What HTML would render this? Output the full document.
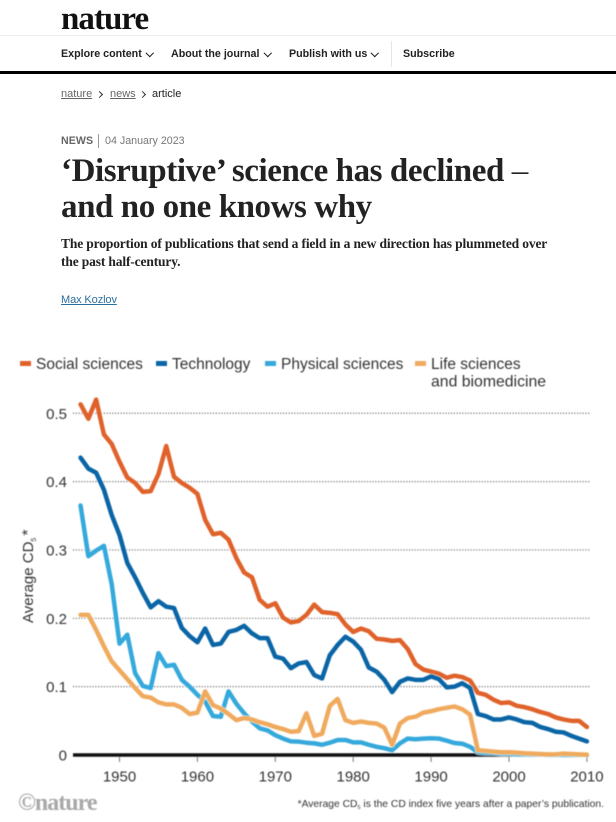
<!DOCTYPE html>
<html lang="en">
<head>
<meta charset="utf-8">
<title>'Disruptive' science has declined</title>
<style>
html,body{margin:0;padding:0;background:#fff;}
body{width:616px;height:822px;position:relative;overflow:hidden;font-family:"Liberation Sans",sans-serif;color:#222;}
.a{position:absolute;white-space:nowrap;}
a{color:inherit;}
.nav{font-size:10.7px;font-weight:bold;top:48px;color:#222;}
.chev{position:absolute;top:50px;width:4.5px;height:4.5px;border-right:1.5px solid #222;border-bottom:1.5px solid #222;transform:rotate(45deg);}
.crumb{position:absolute;top:92px;width:4px;height:4px;border-right:1.3px solid #333;border-top:1.3px solid #333;transform:rotate(45deg);}
svg text{font-family:"Liberation Sans",sans-serif;}
</style>
</head>
<body>
<div class="a" style="left:61px;top:0;font-family:'Liberation Serif',serif;font-weight:bold;font-size:33px;letter-spacing:-.95px;color:#111;line-height:38px;">nature</div>
<div class="a" style="left:0;top:35px;width:616px;height:1px;background:#eee;"></div>

<div class="a nav" style="left:61px;">Explore content</div>
<div class="chev" style="left:147px;"></div>
<div class="a nav" style="left:171px;">About the journal</div>
<div class="chev" style="left:265px;"></div>
<div class="a nav" style="left:289px;">Publish with us</div>
<div class="chev" style="left:372px;"></div>
<div class="a" style="left:391px;top:41px;width:1px;height:26px;background:#e6e6e6;"></div>
<div class="a nav" style="left:403px;">Subscribe</div>
<div class="a" style="left:0;top:71px;width:616px;height:3px;background:#000;"></div>

<div class="a" style="left:61px;top:88px;font-size:11px;color:#666;text-decoration:underline;">nature</div>
<div class="crumb" style="left:97px;"></div>
<div class="a" style="left:110px;top:88px;font-size:11px;color:#666;text-decoration:underline;">news</div>
<div class="crumb" style="left:140px;"></div>
<div class="a" style="left:152px;top:88px;font-size:11px;color:#222;">article</div>

<div class="a" style="left:61px;top:135px;font-size:10.6px;font-weight:bold;color:#666;letter-spacing:.1px;">NEWS</div>
<div class="a" style="left:98px;top:134px;width:1px;height:14px;background:#999;"></div>
<div class="a" style="left:105px;top:135px;font-size:10.7px;color:#777;">04 January 2023</div>

<div class="a" style="left:61px;top:153px;font-family:'Liberation Serif',serif;font-weight:bold;font-size:33px;line-height:36px;letter-spacing:-.42px;color:#222;">‘Disruptive’ science has declined <span style="font-weight:normal">–</span></div>
<div class="a" style="left:61px;top:189px;font-family:'Liberation Serif',serif;font-weight:bold;font-size:33px;line-height:36px;letter-spacing:-.42px;color:#222;">and no one knows why</div>

<div class="a" style="left:61px;top:235px;font-family:'Liberation Serif',serif;font-weight:bold;font-size:13.5px;line-height:18px;letter-spacing:-.15px;color:#222;">The proportion of publications that send a field in a new direction has plummeted over</div>
<div class="a" style="left:61px;top:253px;font-family:'Liberation Serif',serif;font-weight:bold;font-size:13.5px;line-height:18px;letter-spacing:-.15px;color:#222;">the past half-century.</div>
<div class="a" style="left:61px;top:294px;font-size:11px;letter-spacing:-.1px;color:#2a6f9e;text-decoration:underline;">Max Kozlov</div>

<svg id="chart" width="616" height="822" viewBox="0 0 616 822" style="position:absolute;left:0;top:0;filter:blur(.4px);"></svg>

<script>
var years = [];
for (var yr = 1945; yr <= 2010; yr++) { years.push(yr); }
var yTicks = [0, 0.1, 0.2, 0.3, 0.4, 0.5];
var yTickLabels = ['0', '0.1', '0.2', '0.3', '0.4', '0.5'];
var xTicks = [1950, 1960, 1970, 1980, 1990, 2000, 2010];
var social = [0.513,0.492,0.52,0.469,0.455,0.429,0.406,0.398,0.385,0.386,0.411,0.452,0.407,0.398,0.391,0.382,0.344,0.323,0.325,0.315,0.288,0.267,0.26,0.227,0.217,0.222,0.201,0.194,0.196,0.205,0.22,0.209,0.208,0.206,0.191,0.18,0.185,0.181,0.17,0.169,0.167,0.168,0.155,0.133,0.125,0.122,0.119,0.113,0.116,0.114,0.109,0.091,0.088,0.081,0.076,0.077,0.072,0.07,0.067,0.063,0.06,0.055,0.052,0.05,0.05,0.041];
var technology = [0.435,0.419,0.413,0.388,0.351,0.322,0.281,0.26,0.237,0.216,0.225,0.217,0.215,0.186,0.174,0.165,0.185,0.161,0.163,0.18,0.183,0.189,0.178,0.171,0.171,0.144,0.141,0.127,0.134,0.136,0.117,0.112,0.146,0.161,0.173,0.166,0.154,0.128,0.122,0.11,0.092,0.107,0.112,0.11,0.11,0.115,0.111,0.099,0.1,0.105,0.098,0.06,0.057,0.052,0.052,0.055,0.052,0.048,0.047,0.041,0.038,0.034,0.033,0.028,0.024,0.02];
var physical = [0.365,0.291,0.299,0.306,0.25,0.163,0.176,0.12,0.101,0.098,0.149,0.13,0.132,0.11,0.1,0.088,0.078,0.057,0.056,0.093,0.075,0.061,0.049,0.039,0.036,0.029,0.024,0.02,0.0195,0.018,0.017,0.015,0.018,0.022,0.022,0.0185,0.0185,0.015,0.012,0.01,0.007,0.017,0.024,0.023,0.024,0.0245,0.024,0.021,0.0175,0.0165,0.012,0.004,0.003,0.003,0.002,0.002,0.001,0.001,0.0005,0.0005,0,0,0,0,0,0];
var life = [0.205,0.205,0.183,0.159,0.137,0.124,0.111,0.098,0.086,0.084,0.077,0.074,0.074,0.069,0.06,0.062,0.093,0.073,0.068,0.06,0.051,0.054,0.052,0.048,0.045,0.041,0.038,0.034,0.035,0.061,0.028,0.031,0.072,0.082,0.051,0.047,0.049,0.047,0.046,0.04,0.015,0.046,0.054,0.056,0.062,0.064,0.067,0.069,0.071,0.067,0.059,0.007,0.006,0.005,0.004,0.004,0.0035,0.0025,0.002,0.0015,0.001,0.001,0.002,0.0015,0.001,0.0005];

var svg = document.getElementById('chart');
var NS = 'http://www.w3.org/2000/svg';
function xScale(v) { return 119.5 + (v - 1950) * 7.79; }
function yScale(v) { return 755 - v * 683.5; }
function make(tag, attrs, parent) {
  var el = document.createElementNS(NS, tag);
  for (var k in attrs) { el.setAttribute(k, attrs[k]); }
  (parent || svg).appendChild(el);
  return el;
}
function label(str, x, y, size, anchor, fill) {
  var t = make('text', {x: x, y: y, 'font-size': size, 'text-anchor': anchor, fill: fill});
  t.textContent = str;
  return t;
}

yTicks.forEach(function (v, i) {
  var yp = yScale(v);
  if (v > 0) {
    var g = make('line', {x1: 73, x2: 590, y1: yp, y2: yp, stroke: '#666', 'stroke-width': 1.2, 'stroke-dasharray': '1.1 1.7'});
    
    
  }
  var t = label(yTickLabels[i], 67, yp + 5.5, 15, 'end', '#333');
  
  
});

xTicks.forEach(function (v) {
  var xp = xScale(v);
  var tk = make('line', {x1: xp, x2: xp, y1: 757, y2: 762, stroke: '#777', 'stroke-width': 1});
  
  
  var t = label(String(v), xp, 781.5, 15, 'middle', '#333');
  
  
});

var axis = make('line', {x1: 73, x2: 530, y1: 755, y2: 755, stroke: '#111', 'stroke-width': 3.6});



function drawSeries(values, colour, name) {
  var pts = values.map(function (v, i) { return xScale(years[i]).toFixed(2) + ',' + yScale(v).toFixed(2); }).join(' ');
  var casing = make('polyline', {points: pts, fill: 'none', stroke: '#fff', 'stroke-width': 5.8, 'stroke-linejoin': 'round', opacity: 0.8});
  
  
  var line = make('polyline', {points: pts, fill: 'none', stroke: colour, 'stroke-width': 4.5, 'stroke-linejoin': 'round', 'stroke-linecap': 'round'});
  
  
}
drawSeries(social, '#e0622b', 'social-sciences');
drawSeries(technology, '#0a65a6', 'technology');
drawSeries(physical, '#36a9dc', 'physical-sciences');
drawSeries(life, '#f0aa5e', 'life-sciences');

var legendNames = ['Social sciences', 'Technology', 'Physical sciences', 'Life sciences'];
var legendColours = ['#e0622b', '#0a65a6', '#36a9dc', '#f0aa5e'];
var legendSwatchLeft = [20, 156, 265, 415];
legendNames.forEach(function (n, i) {
  var s = make('rect', {x: legendSwatchLeft[i], y: 361, width: 11, height: 5, fill: legendColours[i]});
  
  
  var t = label(n, legendSwatchLeft[i] + 16, 369, 15.5, 'start', '#333');
  
  
});
var l2 = label('and biomedicine', 431, 386.5, 15.8, 'start', '#333');



var yTitle = make('text', {x: 0, y: 0, 'font-size': 15, fill: '#333', transform: 'translate(33,623) rotate(-90)'});


yTitle.textContent = 'Average CD';
var sub = make('tspan', {'font-size': 7, dy: 3}, yTitle);
sub.textContent = '5';
var star = make('tspan', {'font-size': 16, dy: -3, dx: 2}, yTitle);
star.textContent = '*';

var mark = make('text', {x: 18, y: 810, 'font-size': 24, 'font-weight': 'bold', fill: '#a9a9a9', style: 'font-family:"Liberation Serif",serif;letter-spacing:-1px;'});


mark.textContent = '©nature';

var note = make('text', {x: 604, y: 807, 'font-size': 10.3, 'text-anchor': 'end', fill: '#333'});


note.textContent = '*Average CD';
var noteSub = make('tspan', {'font-size': 5.5, dy: 2}, note);
noteSub.textContent = '5';
var noteRest = make('tspan', {dy: -2}, note);
noteRest.textContent = ' is the CD index five years after a paper’s publication.';
</script>
</body>
</html>
